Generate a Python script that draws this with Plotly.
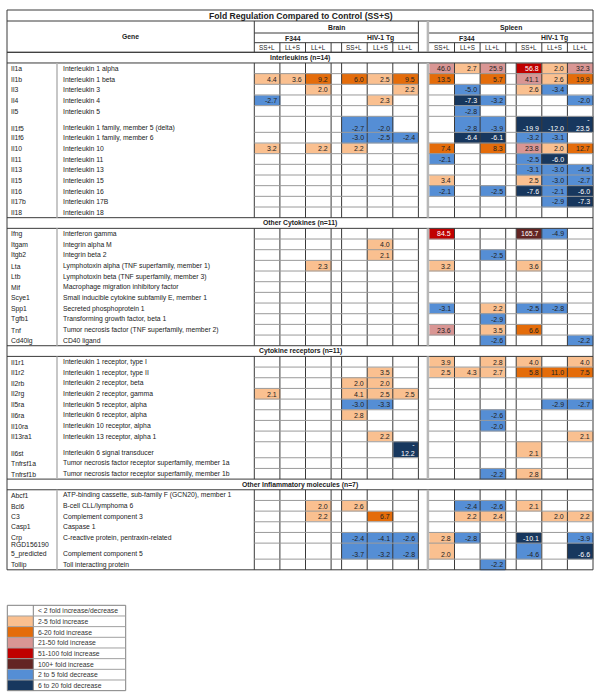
import plotly.graph_objects as go

N = None

# ---------------- data ----------------
section_titles = ["Interleukins (n=14)", "Other Cytokines (n=11)",
                  "Cytokine receptors (n=11)", "Other Inflammatory molecules (n=7)"]
tissue_labels = ["Brain", "Spleen"]
strain_labels = ["F344", "HIV-1 Tg"]
condition_labels = ["SS+L", "LL+S", "LL+L"]
title_text = "Fold Regulation Compared to Control (SS+S)"
gene_header = "Gene"

# value columns: Brain F344 (SS+L, LL+S, LL+L), Brain HIV-1 Tg (...), Spleen F344 (...), Spleen HIV-1 Tg (...)
interleukin_symbols = ["Il1a", "Il1b", "Il3", "Il4", "Il5", "Il1f5", "Il1f6", "Il10",
                       "Il11", "Il13", "Il15", "Il16", "Il17b", "Il18"]
interleukin_names = ["Interleukin 1 alpha", "Interleukin 1 beta", "Interleukin 3", "Interleukin 4",
                     "Interleukin 5", "Interleukin 1 family, member 5 (delta)",
                     "Interleukin 1 family, member 6", "Interleukin 10", "Interleukin 11",
                     "Interleukin 13", "Interleukin 15", "Interleukin 16", "Interleukin 17B",
                     "Interleukin 18"]
interleukin_values = [
    [N, N, N, N, N, N, 46.0, 2.7, 25.9, 56.8, 2.0, 32.3],
    [4.4, 3.6, 9.2, 6.0, 2.5, 9.5, 13.5, N, 5.7, 41.1, 2.6, 19.9],
    [N, N, 2.0, N, N, 2.2, N, -5.0, N, 2.6, -3.4, N],
    [-2.7, N, N, N, 2.3, N, N, -7.3, -3.2, N, N, -2.0],
    [N, N, N, N, N, N, N, -2.8, N, N, N, N],
    [N, N, N, -2.7, -2.0, N, N, -2.8, -3.9, -19.9, -12.0, -23.5],
    [N, N, N, -3.0, -2.5, -2.4, N, -6.4, -6.1, -3.2, -3.1, N],
    [3.2, N, 2.2, 2.2, N, N, 7.4, N, 8.3, 23.8, 2.0, 12.7],
    [N, N, N, N, N, N, -2.1, N, N, -2.5, -6.0, N],
    [N, N, N, N, N, N, N, N, N, -3.1, -3.0, -4.5],
    [N, N, N, N, N, N, 3.4, N, N, 2.5, -3.0, -2.7],
    [N, N, N, N, N, N, -2.1, N, -2.5, -7.6, -2.1, -6.0],
    [N, N, N, N, N, N, N, N, N, N, -2.9, -7.3],
    [N, N, N, N, N, N, N, N, N, N, N, N],
]

cytokine_symbols = ["Ifng", "Itgam", "Itgb2", "Lta", "Ltb", "Mif", "Scye1", "Spp1", "Tgfb1", "Tnf", "Cd40lg"]
cytokine_names = ["Interferon gamma", "Integrin alpha M", "Integrin beta 2",
                  "Lymphotoxin alpha (TNF superfamily, member 1)",
                  "Lymphotoxin beta (TNF superfamily, member 3)",
                  "Macrophage migration inhibitory factor",
                  "Small inducible cytokine subfamily E, member 1",
                  "Secreted phosphoprotein 1", "Transforming growth factor, beta 1",
                  "Tumor necrosis factor (TNF superfamily, member 2)", "CD40 ligand"]
cytokine_values = [
    [N, N, N, N, N, N, 84.5, N, N, 165.7, -4.9, N],
    [N, N, N, N, 4.0, N, N, N, N, N, N, N],
    [N, N, N, N, 2.1, N, N, N, -2.5, N, N, N],
    [N, N, 2.3, N, N, N, 3.2, N, N, 3.6, N, N],
    [N, N, N, N, N, N, N, N, N, N, N, N],
    [N, N, N, N, N, N, N, N, N, N, N, N],
    [N, N, N, N, N, N, N, N, N, N, N, N],
    [N, N, N, N, N, N, -3.1, N, 2.2, -2.5, -2.8, N],
    [N, N, N, N, N, N, N, N, -2.9, N, N, N],
    [N, N, N, N, N, N, 23.6, N, 3.5, 6.6, N, N],
    [N, N, N, N, N, N, N, N, -2.6, N, N, -2.2],
]

receptor_symbols = ["Il1r1", "Il1r2", "Il2rb", "Il2rg", "Il5ra", "Il6ra", "Il10ra", "Il13ra1",
                    "Il6st", "Tnfrsf1a", "Tnfrsf1b"]
receptor_names = ["Interleukin 1 receptor, type I", "Interleukin 1 receptor, type II",
                  "Interleukin 2 receptor, beta", "Interleukin 2 receptor, gamma",
                  "Interleukin 5 receptor, alpha", "Interleukin 6 receptor, alpha",
                  "Interleukin 10 receptor, alpha", "Interleukin 13 receptor, alpha 1",
                  "Interleukin 6 signal transducer",
                  "Tumor necrosis factor receptor superfamily, member 1a",
                  "Tumor necrosis factor receptor superfamily, member 1b"]
receptor_values = [
    [N, N, N, N, N, N, 3.9, N, 2.8, 4.0, N, 4.0],
    [N, N, N, N, 3.5, N, 2.5, 4.3, 2.7, 5.8, 11.0, 7.5],
    [N, N, N, 2.0, 2.0, N, N, N, N, N, N, N],
    [2.1, N, N, 4.1, 2.5, 2.5, N, N, N, N, N, N],
    [N, N, N, -3.0, -3.3, N, N, N, N, N, -2.9, -2.7],
    [N, N, N, 2.8, N, N, N, N, -2.6, N, N, N],
    [N, N, N, N, N, N, N, N, -2.0, N, N, N],
    [N, N, N, N, 2.2, N, N, N, N, N, N, 2.1],
    [N, N, N, N, N, -12.2, N, N, N, 2.1, N, N],
    [N, N, N, N, N, N, N, N, N, N, N, N],
    [N, N, N, N, N, N, N, N, -2.2, 2.8, N, N],
]

inflammatory_symbols = ["Abcf1", "Bcl6", "C3", "Casp1", "Crp", "RGD1561905_predicted", "Tollip"]
inflammatory_names = ["ATP-binding cassette, sub-family F (GCN20), member 1",
                      "B-cell CLL/lymphoma 6", "Complement component 3", "Caspase 1",
                      "C-reactive protein, pentraxin-related", "Complement component 5",
                      "Toll interacting protein"]
inflammatory_values = [
    [N, N, N, N, N, N, N, N, N, N, N, N],
    [N, N, 2.0, 2.6, N, N, N, -2.4, -2.6, 2.1, N, N],
    [N, N, 2.2, N, 6.7, N, N, 2.2, 2.4, N, 2.0, 2.2],
    [N, N, N, N, N, N, N, N, N, N, N, N],
    [N, N, N, -2.4, -4.1, -2.6, 2.8, -2.8, N, -10.1, N, -3.9],
    [N, N, N, -3.7, -3.2, -2.8, 2.0, N, N, -4.6, N, -6.6],
    [N, N, N, N, N, N, N, N, -2.2, N, N, N],
]

legend_labels = ["< 2 fold increase/decrease", "2-5 fold increase", "6-20 fold increase",
                 "21-50 fold increase", "51-100 fold increase", "100+ fold increase",
                 "2 to 5 fold decrease", "6 to 20 fold decrease"]

# ---------------- styles ----------------
FONT = "Liberation Sans, Arial, Helvetica, sans-serif"
TXT = "#222222"
DARK = "#3a3a3a"
GREYLINE = "#9a9a9a"
CAT_COLORS = ["#FFFFFF", "#FAC090", "#E46C0A", "#D99694", "#C00000", "#632523", "#558ED5", "#17375E"]
LIGHT_TEXT_CATS = {4, 5, 7}

tall_rows = {"Il1f5", "Il6st", "RGD1561905_predicted"}
symbol_display = {"RGD1561905_predicted": "RGD156190<br>5_predicted"}
wrapped_cells = {("Il1f5", 11), ("Il6st", 5)}

# geometry (pixel-like layout units)
W, H = 600, 699
TABLE_L, TABLE_R = 7.0, 593.0
TABLE_T, TITLE_B = 10.0, 21.0
HDR1_B, HDR2_B, HDR3_B = 33.0, 42.7, 52.3
SYM_X, NAME_X = 57.0, 62.5
VAL_L = 254.3
CELL_W, GAP_W = 25.6, 10.5
ROW_H = 10.67
TALL = 1.5
LEG_L, LEG_SW, LEG_R, LEG_T = 7.3, 33.3, 125.7, 605.3


def category(v):
    if v is None:
        return None
    if v >= 100:
        return 5
    if v > 50:
        return 4
    if v > 20:
        return 3
    if v > 5:
        return 2
    if v >= 2:
        return 1
    if v <= -5.5:
        return 7
    if v <= -2:
        return 6
    return 0


sections = [
    (section_titles[0], interleukin_symbols, interleukin_names, interleukin_values),
    (section_titles[1], cytokine_symbols, cytokine_names, cytokine_values),
    (section_titles[2], receptor_symbols, receptor_names, receptor_values),
    (section_titles[3], inflammatory_symbols, inflammatory_names, inflammatory_values),
]

# column grid
widths = []
for g in range(4):
    widths += [CELL_W] * 3
    if g < 3:
        widths.append(GAP_W)
x_edges = [VAL_L]
for w in widths:
    x_edges.append(x_edges[-1] + w)
n_cols = len(widths)
grid_col = [j + j // 3 for j in range(12)]
SEP_L, SEP_R = x_edges[7], x_edges[8]

# rows
rows = []
y = HDR3_B
for title, syms, names, vals in sections:
    rows.append(("sec", y, y + ROW_H, title))
    y += ROW_H
    for s, nm, v in zip(syms, names, vals):
        h = ROW_H * (TALL if s in tall_rows else 1)
        rows.append(("gene", y, y + h, (s, nm, v)))
        y += h
TABLE_B = y

y_edges = [HDR3_B] + [r[2] for r in rows]
z = []
for kind, y0, y1, payload in rows:
    zr = [None] * n_cols
    if kind == "gene":
        for j, v in enumerate(payload[2]):
            zr[grid_col[j]] = category(v)
    z.append(zr)

ncat = len(CAT_COLORS)
colorscale = []
for i, c in enumerate(CAT_COLORS):
    colorscale += [[i / ncat, c], [(i + 1) / ncat, c]]

fig = go.Figure()
fig.add_trace(go.Heatmap(x=x_edges, y=y_edges, z=z, colorscale=colorscale,
                         zmin=-0.5, zmax=ncat - 0.5, showscale=False, hoverinfo="skip"))

leg_edges = [LEG_T + i * ROW_H for i in range(len(legend_labels) + 1)]
fig.add_trace(go.Heatmap(x=[LEG_L, LEG_SW], y=leg_edges, z=[[i] for i in range(len(legend_labels))],
                         colorscale=colorscale, zmin=-0.5, zmax=ncat - 0.5,
                         showscale=False, hoverinfo="skip"))

# ---------------- lines ----------------
shapes = []


def line(x0, y0, x1, y1, color=DARK, width=1):
    shapes.append(dict(type="line", xref="x", yref="y", x0=x0, y0=y0, x1=x1, y1=y1,
                       line=dict(color=color, width=width)))


shapes.append(dict(type="rect", xref="x", yref="y", x0=TABLE_L, y0=TABLE_T, x1=TABLE_R, y1=TABLE_B,
                   line=dict(color=DARK, width=1)))
line(TABLE_L, TITLE_B, TABLE_R, TITLE_B)
line(TABLE_L, HDR3_B, TABLE_R, HDR3_B)
for yy in (HDR1_B, HDR2_B):
    line(VAL_L, yy, SEP_L, yy)
    line(SEP_R, yy, TABLE_R, yy)
line(VAL_L, TITLE_B, VAL_L, HDR3_B)
line(SEP_L, TITLE_B, SEP_L, HDR3_B)
line(SEP_R - 1.0, TITLE_B, SEP_R - 1.0, HDR3_B, color="#b8b8b8", width=2.5)
for k in range(1, n_cols):
    if k not in (7, 8):
        line(x_edges[k], HDR2_B, x_edges[k], HDR3_B)

# section blocks
blocks = []
cur = None
for kind, y0, y1, payload in rows:
    if kind == "sec":
        line(TABLE_L, y0, TABLE_R, y0)
        line(TABLE_L, y1, TABLE_R, y1)
        if cur:
            blocks.append(cur)
        cur = [y1, y1, []]
    else:
        cur[1] = y1
        cur[2].append(y1)
blocks.append(cur)

for b0, b1, bottoms in blocks:
    line(SYM_X, b0, SYM_X, b1, color="#b5b5b5", width=1.5)
    for k in range(0, n_cols):
        if k == 8:
            line(SEP_R - 1.0, b0, SEP_R - 1.0, b1, color="#b8b8b8", width=2.5)
        else:
            line(x_edges[k], b0, x_edges[k], b1)
    for yb in bottoms[:-1]:
        line(VAL_L, yb, SEP_L, yb, color=GREYLINE)
        line(SEP_R, yb, TABLE_R, yb, color=GREYLINE)

# legend lines
LEG_B = leg_edges[-1]
shapes.append(dict(type="rect", xref="x", yref="y", x0=LEG_L, y0=LEG_T, x1=LEG_R, y1=LEG_B,
                   line=dict(color="#808080", width=1)))
line(LEG_SW, LEG_T, LEG_SW, LEG_B, color="#808080")
for yy in leg_edges[1:-1]:
    line(LEG_L, yy, LEG_R, yy, color="#a0a0a0")

# ---------------- text ----------------
annotations = []


def ann(x, y, text, size=7.0, color=TXT, xanchor="center", yanchor="middle", bold=False, align="center"):
    annotations.append(dict(x=x, y=y, xref="x", yref="y",
                            text=f"<b>{text}</b>" if bold else text, showarrow=False,
                            xanchor=xanchor, yanchor=yanchor, align=align,
                            borderpad=0, borderwidth=0,
                            font=dict(size=size, color=color, family=FONT)))


ann((TABLE_L + TABLE_R) / 2 + 1, (TABLE_T + TITLE_B) / 2, title_text, size=8.6, bold=True)
ann((TABLE_L + VAL_L) / 2, (TITLE_B + HDR3_B) / 2, gene_header, size=6.8, bold=True)
tissue_spans = [(x_edges[0], SEP_L), (SEP_R, x_edges[-1])]
for t, (a, b) in zip(tissue_labels, tissue_spans):
    ann((a + b) / 2, (TITLE_B + HDR1_B) / 2 + 0.8, t, size=6.8, bold=True)
for g in range(4):
    c0 = grid_col[g * 3]
    a, b = x_edges[c0], x_edges[c0 + 3]
    ann((a + b) / 2, (HDR1_B + HDR2_B) / 2 + 0.3, strain_labels[g % 2], size=6.8, bold=True)
    for i, cond in enumerate(condition_labels):
        k = c0 + i
        ann((x_edges[k] + x_edges[k + 1]) / 2, (HDR2_B + HDR3_B) / 2 + 0.3, cond, size=6.3)

for kind, y0, y1, payload in rows:
    if kind == "sec":
        ann((TABLE_L + TABLE_R) / 2, (y0 + y1) / 2 + 0.3, payload, size=6.8, bold=True)
        continue
    s, nm, vals = payload
    tall = s in tall_rows
    ty = y1 - 0.8 if tall else (y0 + y1) / 2 + 0.3
    ya = "bottom" if tall else "middle"
    ann(SYM_X - 46.5, ty, symbol_display.get(s, s), size=6.8, xanchor="left", yanchor=ya, align="left")
    ann(NAME_X, ty, nm, size=6.8, xanchor="left", yanchor=ya, align="left")
    for j, v in enumerate(vals):
        if v is None:
            continue
        k = grid_col[j]
        cat = category(v)
        col = "#FFFFFF" if cat in LIGHT_TEXT_CATS else TXT
        txt = f"{v:.1f}"
        if (s, j) in wrapped_cells:
            txt = "-<br>" + f"{abs(v):.1f}"
        ann(x_edges[k + 1] - 3.2, ty, txt, size=7, color=col, xanchor="right", yanchor=ya, align="right")

for i, lab in enumerate(legend_labels):
    ann(LEG_SW + 4.5, (leg_edges[i] + leg_edges[i + 1]) / 2 + 0.3, lab, size=6.8,
        color="#333333", xanchor="left")

fig.update_layout(
    width=W, height=H, margin=dict(l=0, r=0, t=0, b=0),
    paper_bgcolor="white", plot_bgcolor="white",
    xaxis=dict(range=[0, W], visible=False, fixedrange=True),
    yaxis=dict(range=[H, 0], visible=False, fixedrange=True),
    shapes=shapes, annotations=annotations, showlegend=False, hovermode=False,
)

fig.write_html("out.html", config={"displayModeBar": False},
               post_script="document.body.style.margin='0';document.body.style.overflow='hidden';")
